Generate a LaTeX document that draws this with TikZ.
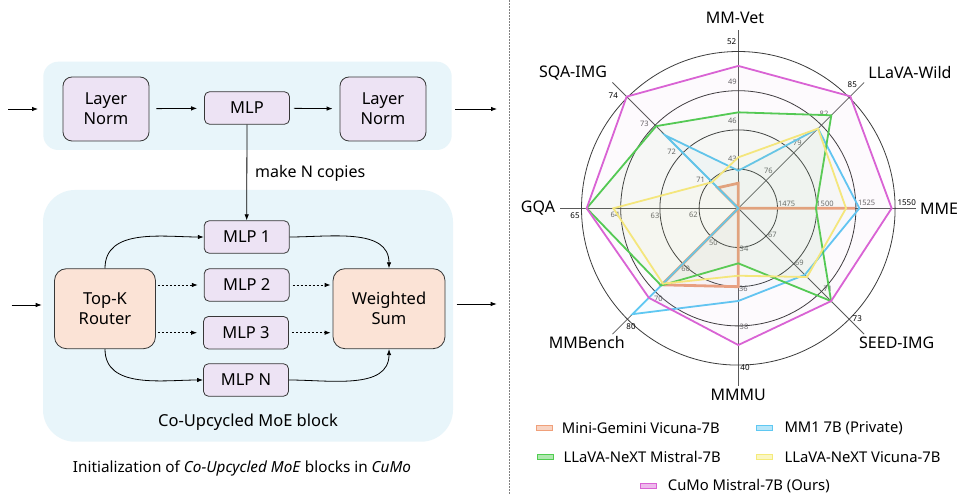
\documentclass[tikz,border=0pt]{standalone}
\usepackage{fontspec}
\setmainfont{Noto Sans}
\usetikzlibrary{arrows.meta}
\definecolor{bgblue}{RGB}{232,245,250}
\definecolor{lav}{RGB}{237,227,244}
\definecolor{peach}{RGB}{251,227,214}
\definecolor{bordc}{RGB}{55,55,55}
\definecolor{cOrange}{RGB}{240,160,122}
\definecolor{cBlue}{RGB}{95,200,242}
\definecolor{cGreen}{RGB}{80,205,80}
\definecolor{cYellow}{RGB}{245,235,122}
\definecolor{cMagenta}{RGB}{217,99,212}
\definecolor{ringc}{RGB}{60,60,60}
\definecolor{tickc}{RGB}{100,100,100}
\newcommand\bxfont{\fontsize{16.5}{20}\selectfont}
\newcommand\axfont{\fontsize{16}{19}\selectfont}
\newcommand\lgfont{\fontsize{14.8}{17}\selectfont}
\newcommand\tkfont{\fontsize{7.5}{8}\selectfont}
\newcommand\bkfont{\fontsize{8}{9}\selectfont\bfseries}
\tikzset{
  lnbox/.style={draw=bordc, fill=lav, rounded corners=9pt, minimum width=86pt, minimum height=64pt, align=center, inner sep=0pt, font=\bxfont, line width=0.8pt},
  mlpbox/.style={draw=bordc, fill=lav, rounded corners=5pt, minimum width=85pt, minimum height=32.5pt, inner sep=0pt, font=\bxfont, line width=0.8pt},
  peachbox/.style={draw=bordc, fill=peach, rounded corners=12pt, minimum height=80pt, align=center, inner sep=0pt, font=\bxfont, line width=0.8pt},
  arr/.style={-{Latex[length=6pt,width=4.5pt]}, line width=0.8pt, draw=black},
  darr/.style={arr, dashed, dash pattern=on 2.5pt off 1.5pt},
  ring/.style={draw=ringc, line width=0.8pt},
  axisln/.style={draw=ringc!85, line width=0.8pt},
  tick/.style={text=tickc, font=\tkfont, inner sep=0pt},
  bold/.style={font=\bkfont, inner sep=0pt},
  axname/.style={font=\axfont, inner sep=0pt},
  series/.style={draw=#1, fill=#1, fill opacity=0.045, line width=1.8pt, line join=miter, draw opacity=1},
  patch/.style={draw=#1, fill=#1!45, line width=0.8pt, minimum width=16pt, minimum height=5pt, inner sep=0pt},
  lgtext/.style={font=\lgfont, anchor=west, inner sep=0pt},
}
\begin{document}
\begin{tikzpicture}[x=1pt,y=-1pt]
\useasboundingbox (0,0) rectangle (959,494);
\fill[white] (0,0) rectangle (959,494);

% ---------- left: top block ----------
\fill[bgblue, rounded corners=15pt] (43.3,61.7) rectangle (451.7,150);
\node[lnbox] (ln1) at (106,109) {Layer\\Norm};
\node[mlpbox] (mlp) at (247,108) {MLP};
\node[lnbox] (ln2) at (383,109) {Layer\\Norm};
\coordinate (inA) at (8,109);
\coordinate (inB) at (38,109);
\coordinate (outA) at (455,109);
\coordinate (outB) at (497,109);
\draw[arr] (inA) -- (inB);
\draw[arr, shorten <=7pt, shorten >=7pt] (ln1) -- (mlp);
\draw[arr, shorten <=4pt, shorten >=7pt] (mlp) -- (ln2);
\draw[arr] (outA) -- (outB);

% ---------- left: MoE block ----------
\fill[bgblue, rounded corners=32pt] (43,190) rectangle (453,441.7);
\node[mlpbox] (mlp1) at (246.7,237) {MLP 1};
\node[mlpbox] (mlp2) at (246.7,285) {MLP 2};
\node[mlpbox] (mlp3) at (246,332.7) {MLP 3};
\node[mlpbox] (mlpn) at (246,380) {MLP N};
\node[peachbox, minimum width=101pt] (router) at (105,308.7) {Top-K\\Router};
\node[peachbox, minimum width=112pt] (ws) at (389,308.7) {Weighted\\Sum};
\draw[arr] (mlp.south) -- (mlp1.north);
\node[font=\fontsize{16}{19}\selectfont, anchor=west, inner sep=0pt] (copies) at (255,173) {make N copies};
\coordinate (inC) at (11.7,305);
\coordinate (inD) at (41.7,305);
\coordinate (outC) at (456.7,304);
\coordinate (outD) at (496.7,304);
\draw[arr] (inC) -- (inD);
\draw[arr] (outC) -- (outD);
\draw[arr] (router.north) to[out=90, in=180] (mlp1.west);
\draw[arr] (mlp1.east) to[out=0, in=90] (ws.north);
\draw[arr] (router.south) to[out=-90, in=180] (mlpn.west);
\draw[arr] (mlpn.east) to[out=0, in=-90] (ws.south);
\draw[darr, shorten <=2pt, shorten >=6pt] (router.east |- mlp2.west) -- (mlp2.west);
\draw[darr, shorten <=2pt, shorten >=6pt] (router.east |- mlp3.west) -- (mlp3.west);
\draw[darr, shorten <=3pt, shorten >=2pt] (mlp2.east) -- (ws.west |- mlp2.east);
\draw[darr, shorten <=3pt, shorten >=2pt] (mlp3.east) -- (ws.west |- mlp3.east);
\node[font=\bxfont, inner sep=0pt] (moelabel) at (248,422) {Co-Upcycled MoE block};
\node[font=\fontsize{15.3}{18}\selectfont, inner sep=0pt] (caption) at (242,468) {Initialization of \textit{Co-Upcycled MoE} blocks in \textit{CuMo}};

% ---------- separator ----------
\coordinate (sepT) at (509,0);
\coordinate (sepB) at (509,494);
\draw[gray, line width=0.7pt, dash pattern=on 2pt off 1pt] (sepT) -- (sepB);

% ---------- radar chart ----------
\begin{scope}[shift={(738.3,208.3)}, y=1pt]
\def\R{156.8}
\foreach \a in {90,45,0,-45,-90,-135,180,135}
  \draw[axisln] (0,0) -- (\a:178);
\foreach \r in {39.2,78.4,117.6,156.8}
  \draw[ring] (0,0) circle[radius=\r pt];
% tick labels
\node[tick] (t1a) at (-6,49) {43};
\node[tick] (t1b) at (-6,87.7) {46};
\node[tick] (t1c) at (-6,126.3) {49};
\node[tick] (t2a) at (30,37.6) {76};
\node[tick] (t2b) at (59,65.6) {79};
\node[tick] (t2c) at (85.7,94) {82};
\node[tick] (t3a) at (48.4,4) {1475};
\node[tick] (t3b) at (86.7,4) {1500};
\node[tick] (t3c) at (128.3,5) {1525};
\node[tick] (t4a) at (34,-27) {67};
\node[tick] (t4b) at (61,-54.3) {69};
\node[tick] (t4c) at (89.5,-81) {71};
\node[tick] (t5a) at (5.7,-41) {34};
\node[tick] (t5b) at (5,-81) {36};
\node[tick] (t5c) at (5.7,-119) {38};
\node[tick] (t6a) at (-25,-34.4) {50};
\node[tick] (t6b) at (-52.6,-61) {60};
\node[tick] (t6c) at (-80,-91) {70};
\node[tick] (t7a) at (-45,-6.7) {62};
\node[tick] (t7b) at (-83.3,-7.3) {63};
\node[tick] (t7c) at (-123.3,-6.7) {64};
\node[tick] (t8a) at (-37.6,28) {71};
\node[tick] (t8b) at (-66.6,56.6) {72};
\node[tick] (t8c) at (-94,84) {73};
% outer bold labels
\node[bold] (b1) at (-6.6,166.6) {52};
\node[bold] (b2) at (114,123.3) {85};
\node[bold] (b3) at (168.4,6) {1550};
\node[bold] (b4) at (119,-110) {73};
\node[bold] (b5) at (6.7,-159) {40};
\node[bold] (b6) at (-107.3,-118.4) {80};
\node[bold] (b7) at (-163.3,-7.4) {65};
\node[bold] (b8) at (-125,112.6) {74};
% axis names
\node[axname] (nMMVet) at (-3.3,190.3) {MM-Vet};
\node[axname] (nWild) at (171.7,135.6) {LLaVA-Wild};
\node[axname] (nMME) at (200.7,0) {MME};
\node[axname] (nSEED) at (158.4,-134.7) {SEED-IMG};
\node[axname] (nMMMU) at (0,-186.7) {MMMU};
\node[axname] (nMMB) at (-151.6,-134.7) {MMBench};
\node[axname] (nGQA) at (-200.3,0) {GQA};
\node[axname] (nSQA) at (-165.3,135.3) {SQA-IMG};
% series
\draw[series=cOrange, line width=2.8pt] (90:{.16*\R}) -- (0,0) -- (0:{.744*\R}) -- (0,0) -- (-90:{.5*\R}) -- (-135:{.69*\R}) -- (0,0) -- (135:{.185*\R}) -- cycle;
\draw[series=cBlue] (90:{.24*\R}) -- (45:{.719*\R}) -- (0:{.772*\R}) -- (-45:{.60*\R}) -- (-90:{.591*\R}) -- (-135:{.955*\R}) -- (0,0) -- (135:{.657*\R}) -- cycle;
\draw[series=cGreen] (90:{.612*\R}) -- (45:{.839*\R}) -- (0:{.495*\R}) -- (-45:{.837*\R}) -- (-90:{.351*\R}) -- (-135:{.696*\R}) -- (180:{.967*\R}) -- (135:{.741*\R}) -- cycle;
\draw[series=cYellow] (90:{.325*\R}) -- (45:{.719*\R}) -- (0:{.687*\R}) -- (-45:{.62*\R}) -- (-90:{.43*\R}) -- (-135:{.68*\R}) -- (180:{.797*\R}) -- (135:{.236*\R}) -- cycle;
\draw[series=cMagenta, fill opacity=0.03] (90:{.908*\R}) -- (45:{1.01*\R}) -- (0:{.978*\R}) -- (-45:{.837*\R}) -- (-90:{.872*\R}) -- (-135:{.807*\R}) -- (180:{.967*\R}) -- (135:{1.007*\R}) -- cycle;
\end{scope}

% ---------- legend ----------
\node[patch=cOrange] (p1) at (544.7,428) {};
\node[lgtext] (l1) at (561.7,428) {Mini-Gemini Vicuna-7B};
\node[patch=cBlue] (p2) at (764.7,428) {};
\node[lgtext] (l2) at (784.3,428) {MM1 7B (Private)};
\node[patch=cGreen] (p3) at (545.4,456.7) {};
\node[lgtext] (l3) at (563.3,456.7) {LLaVA-NeXT Mistral-7B};
\node[patch=cYellow] (p4) at (764.7,456.7) {};
\node[lgtext] (l4) at (784.3,456.7) {LLaVA-NeXT Vicuna-7B};
\node[patch=cMagenta] (p5) at (648,486) {};
\node[lgtext] (l5) at (667.7,486) {CuMo Mistral-7B (Ours)};
\end{tikzpicture}
\end{document}
